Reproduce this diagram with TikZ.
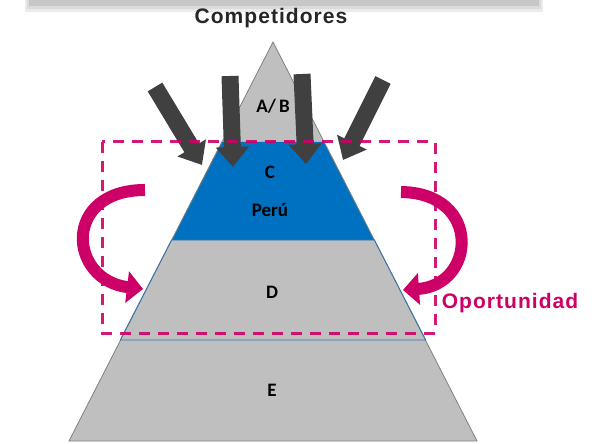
\documentclass[tikz,border=0pt]{standalone}
\usepackage{fontspec}
\setmainfont{Liberation Sans}
\newfontfamily\calibri{Carlito}
\usetikzlibrary{arrows.meta,positioning}
\definecolor{pyrgray}{RGB}{191,191,191}
\definecolor{pyrblue}{RGB}{0,112,192}
\definecolor{lineblue}{RGB}{46,117,182}
\definecolor{oppmag}{RGB}{204,0,102}
\definecolor{darkarr}{RGB}{64,64,64}
\tikzstyle{lvl} = [font=\calibri\bfseries\fontsize{19}{19}\selectfont, text=black]
\tikzstyle{push} = [draw=darkarr, line width=17pt, -{Triangle[length=20pt,width=32pt]}]
\tikzstyle{swing} = [draw=oppmag, line width=12pt, -{Triangle[length=16pt,width=31pt]}]

\begin{document}
\begin{tikzpicture}[x=1pt, y=-1pt]
\useasboundingbox (0,0) rectangle (598,444);
% shadow of the box above
\fill[black!8] (25,0) rectangle (543,12);
\fill[black!14] (27,0) rectangle (541,9);
\fill[black!22] (29,0) rectangle (539,6);
% pyramid
\coordinate (apex) at (273,42);
\coordinate (bl) at (69,441);
\coordinate (br) at (477,441);
\coordinate (cl) at (221.7,142);
\coordinate (cr) at (324.3,142);
\coordinate (dl) at (171.5,240);
\coordinate (dr) at (374.5,240);
\coordinate (el) at (120.2,340);
\coordinate (er) at (425.8,340);
\fill[pyrgray] (apex) -- (bl) -- (br) -- cycle;
\fill[pyrblue] (cl) -- (cr) -- (dr) -- (dl) -- cycle;
\draw[black!50, line width=0.8pt] (apex) -- (bl) -- (br) -- cycle;
\draw[lineblue, line width=0.8pt] (el) -- (dl) -- (dr) -- (er) -- cycle;
\node(AB)[lvl] at (273,106) {A/\,B};
\node(C)[lvl] at (270,172) {C};
\node(P)[lvl] at (270,210) {Perú};
\node(D)[lvl] at (272,292) {D};
\node(E)[lvl] at (272,390) {E};
\node(T)[font=\bfseries\fontsize{21}{21}\selectfont\addfontfeature{LetterSpace=5}, text=black!85] at (271,18) {Competidores};
\node(O)[font=\bfseries\fontsize{21}{21}\selectfont\addfontfeature{LetterSpace=5}, text=oppmag] at (510,303) {Oportunidad};
% competitors pushing down
\coordinate (a1) at (155,87);
\coordinate (b1) at (202,165);
\coordinate (a2) at (230,76);
\coordinate (b2) at (233,167);
\coordinate (a3) at (302,74);
\coordinate (b3) at (306,164);
\coordinate (a4) at (383,80);
\coordinate (b4) at (343,160);
\draw[push] (a1) -- (b1);
\draw[push] (a2) -- (b2);
\draw[push] (a3) -- (b3);
\draw[push] (a4) -- (b4);
% opportunity arrows
\coordinate (s1) at (145,190);
\coordinate (t1) at (143,289);
\coordinate (s2) at (401,192);
\coordinate (t2) at (403,290);
\draw[swing] (s1) .. controls (62,190) and (68,280) .. (t1);
\draw[swing] (s2) .. controls (482,193) and (476,285) .. (t2);
\draw[oppmag, line width=3pt, dash pattern=on 11pt off 8pt, opacity=0.9] (102,142) rectangle (435,333);
\end{tikzpicture}
\end{document}
